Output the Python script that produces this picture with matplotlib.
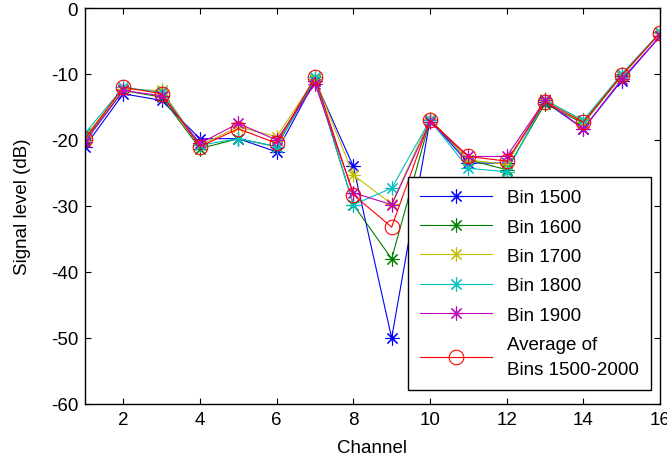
import numpy as np
import matplotlib.pyplot as plt

plt.rcParams['font.family'] = ['Liberation Sans', 'DejaVu Sans']
plt.rcParams['axes.unicode_minus'] = False

channels = np.arange(1, 17)
bin1500 = [-21.0, -13.0, -14.0, -19.8, -19.8, -21.8, -11.0, -24.0, -50.0, -17.0, -23.5, -23.5, -14.2, -18.3, -11.0, -4.3]
bin1600 = [-20.0, -12.5, -13.5, -21.3, -19.8, -21.0, -10.8, -29.8, -38.0, -17.0, -23.0, -24.5, -14.5, -17.5, -10.3, -3.8]
bin1700 = [-19.5, -12.3, -12.5, -20.8, -18.0, -19.5, -10.8, -25.3, -29.7, -16.8, -23.0, -23.7, -13.8, -17.3, -10.2, -3.8]
bin1800 = [-19.0, -12.0, -12.8, -20.8, -19.8, -21.0, -10.5, -29.8, -27.3, -17.0, -24.3, -24.8, -14.0, -17.0, -10.0, -3.7]
bin1900 = [-20.3, -12.5, -13.3, -20.5, -17.5, -20.0, -11.5, -28.0, -29.8, -17.3, -22.5, -22.5, -14.0, -18.3, -10.8, -4.3]
average = [-19.8, -12.0, -13.0, -21.0, -18.3, -20.5, -10.5, -28.3, -33.2, -17.0, -22.5, -23.2, -14.2, -17.3, -10.2, -3.8]

labels = ['Bin 1500', 'Bin 1600', 'Bin 1700', 'Bin 1800', 'Bin 1900']
colors = ['#0000ff', '#008000', '#bfbf00', '#00bfbf', '#bf00bf']

fig = plt.figure(figsize=(6.67, 4.64), dpi=100)
ax = fig.add_axes([0.1274, 0.1272, 0.8621, 0.8534])

star = (8, 2, 0)
for y, lab, c in zip([bin1500, bin1600, bin1700, bin1800, bin1900], labels, colors):
    ax.plot(channels, y, color=c, lw=0.8, marker=star, ms=10, mew=0.8, label=lab)
ax.plot(channels, average, color='#ff0000', lw=0.8, marker='o', ms=10.5,
        mfc='none', mew=0.8, label='Average of\nBins 1500-2000')

ax.set_xlim(1, 16)
ax.set_ylim(-60, 0)
ax.set_xticks(np.arange(2, 17, 2))
ax.set_yticks(np.arange(-60, 1, 10))
ax.tick_params(direction='in', top=True, right=True, labelsize=13.5, length=4, pad=5)
for s in ax.spines.values():
    s.set_linewidth(1.0)
ax.set_xlabel('Channel', fontsize=13.5, labelpad=8)
ax.set_ylabel('Signal level (dB)', fontsize=13.5, labelpad=14)

leg = ax.legend(loc='upper left', bbox_to_anchor=(0.562, 0.573), fontsize=13.5,
                handlelength=3.8, fancybox=False, framealpha=1, edgecolor='black',
                borderpad=0.65, labelspacing=0.65, handletextpad=0.8,
                borderaxespad=0)
leg.get_frame().set_linewidth(1.0)
for t in leg.get_texts():
    t.set_linespacing(1.6)

fig.savefig('out.png', dpi=100)
